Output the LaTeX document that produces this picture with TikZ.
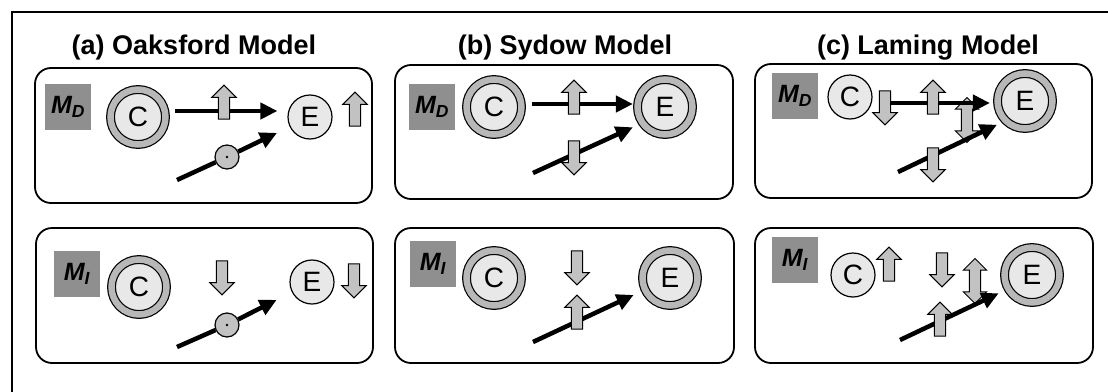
\documentclass[tikz,border=0pt]{standalone}
\usepackage{fontspec}
\setmainfont{Liberation Sans}
\usetikzlibrary{arrows.meta,shapes.arrows}
\definecolor{lblgray}{gray}{0.56}
\definecolor{ringgray}{gray}{0.72}
\definecolor{varfill}{gray}{0.91}
\definecolor{arrgray}{gray}{0.76}

\begin{document}
\begin{tikzpicture}[x=1pt, y=-1pt,
  box/.style = {draw, line width=1.8pt, rounded corners=16pt},
  ttl/.style = {font=\bfseries\fontsize{27}{30}\selectfont},
  lbl/.style = {fill=lblgray, minimum width=46pt, minimum height=46pt, inner sep=0pt,
    font=\bfseries\itshape\fontsize{25}{27}\selectfont},
  var/.style = {circle, draw, line width=1.2pt, fill=varfill, minimum size=44pt,
    inner sep=0pt, font=\fontsize{28}{30}\selectfont},
  obs/.style = {var, minimum size=55pt, double=ringgray, double distance=6.5pt},
  dotc/.style = {circle, draw, line width=1.2pt, fill=arrgray, minimum size=24pt, inner sep=0pt},
  seg/.style = {line width=4.5pt},
  conn/.style = {line width=4.5pt, -{Triangle[length=17pt,width=16pt]}},
  blk/.style = {draw, fill=arrgray, line width=1pt, inner xsep=0pt, inner ysep=5.2pt},
  incr/.style = {blk, single arrow, single arrow head extend=6.5pt, minimum height=34pt, rotate=90},
  decr/.style = {blk, single arrow, single arrow head extend=6.5pt, minimum height=34pt, rotate=-90},
  both/.style = {blk, double arrow, double arrow head extend=6pt, minimum height=45pt, rotate=90}]
\useasboundingbox (0,0) rectangle (1108,391);
\draw[line width=2.5pt] (12,395) -- (12,12) -- (1112,12);

\node[ttl] (ta) at (194,48) {(a) Oaksford Model};
\node[ttl] (tb) at (565,48) {(b) Sydow Model};
\node[ttl] (tc) at (928,48) {(c) Laming Model};

\draw[box] (35,68) rectangle (372,203);
\draw[box] (36,228) rectangle (373,363);
\draw[box] (395,65) rectangle (733,199);
\draw[box] (395,228) rectangle (734,363);
\draw[box] (755,64) rectangle (1092,198);
\draw[box] (755,228) rectangle (1093,363);

% (a)
\node[lbl] (mda) at (68,107) {M\textsubscript{D}};
\node[obs] (Ca) at (138,117) {C};
\node[var] (Ea) at (310,117) {E};
\coordinate (ta1) at (177,180);
\node[dotc] (oa) at (227,157) {};
\draw[conn, shorten <=9pt, shorten >=10pt] ([yshift=6pt]Ca.east) -- ([yshift=6pt]Ea.west);
\draw[seg] (ta1) -- (oa);
\draw[conn, shorten >=14pt] (oa) -- (Ea);
\fill (oa) circle [radius=1.3];
\node[incr] (ia1) at (224,105) {};
\node[incr] (ia2) at (355,112) {};

\node[lbl] (mia) at (77,274) {M\textsubscript{I}};
\node[obs] (Ca2) at (139,287) {C};
\node[var] (Ea2) at (312,282) {E};
\coordinate (ta2) at (177,347);
\node[dotc] (oa2) at (227,325) {};
\draw[seg] (ta2) -- (oa2);
\draw[conn, shorten >=17pt] (oa2) -- (Ea2);
\fill (oa2) circle [radius=1.3];
\node[decr] (da1) at (222,275) {};
\node[decr] (da2) at (354,278) {};

% (b)
\node[lbl] (mdb) at (432,107) {M\textsubscript{D}};
\node[obs] (Cb) at (494,107) {C};
\node[obs] (Eb) at (665,107) {E};
\coordinate (tb1) at (533,173);
\draw[conn, shorten <=10pt, shorten >=4pt] ([yshift=3pt]Cb.east) -- ([yshift=3pt]Eb.west);
\draw[conn, shorten >=10pt] (tb1) -- (Eb.215);
\node[incr] (ib1) at (574,100) {};
\node[decr] (db1) at (574,155) {};

\node[lbl] (mib) at (433,264) {M\textsubscript{I}};
\node[obs] (Cb2) at (494,278) {C};
\node[obs] (Eb2) at (670,278) {E};
\coordinate (tb2) at (533,342);
\draw[conn, shorten >=12pt] (tb2) -- (Eb2.205);
\node[decr] (db2) at (577,265) {};
\node[incr] (ib2) at (577,315) {};

% (c)
\node[lbl] (mdc) at (795,96) {M\textsubscript{D}};
\node[var] (Cc) at (850,97) {C};
\node[obs] (Ec) at (1025,101) {E};
\coordinate (tc1) at (898,172);
\node[both] (bc1) at (967,120) {};
\draw[conn, shorten <=8pt, shorten >=7pt] ([yshift=-6pt]Cc.east) -- ([yshift=-2pt]Ec.west);
\draw[conn, shorten >=9pt] (tc1) -- (Ec.south west);
\node[decr] (dc1) at (885,105) {};
\node[incr] (ic1) at (933,100) {};
\node[decr] (dc2) at (933,162) {};

\node[lbl] (mic) at (795,260) {M\textsubscript{I}};
\node[var] (Cc2) at (853,275) {C};
\node[obs] (Ec2) at (1032,275) {E};
\coordinate (tc2) at (900,340);
\node[both] (bc2) at (975,281) {};
\draw[conn, shorten >=10pt] (tc2) -- (Ec2.210);
\node[incr] (ic2) at (889,267) {};
\node[decr] (dc3) at (942,267) {};
\node[incr] (ic3) at (940,322) {};
\end{tikzpicture}
\end{document}
